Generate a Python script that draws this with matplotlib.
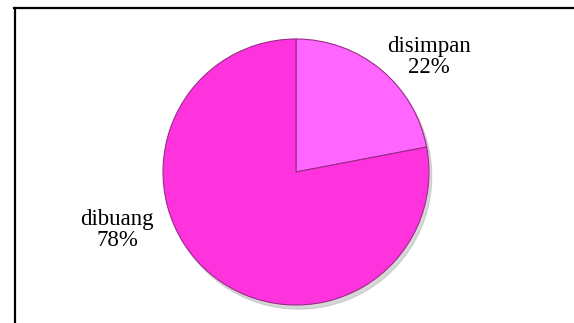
import matplotlib.pyplot as plt
from matplotlib.lines import Line2D

labels = ['disimpan', 'dibuang']
values = [22, 78]
colors = ['#ff66ff', '#ff33dd']

W, H = 574, 323
fig = plt.figure(figsize=(W / 100, H / 100), dpi=100)
ax = fig.add_axes([0, 0, 1, 1])

# pie in pixel units, y going up
cx, cy, r = 296, H - 172, 133
wedges, _ = ax.pie(values, colors=colors, startangle=90, counterclock=False,
                   center=(cx, cy), radius=r, frame=True,
                   wedgeprops=dict(edgecolor='#9a2a8a', linewidth=0.8),
                   shadow=dict(ox=2, oy=-3, color='#b0b0b0', alpha=0.5))
ax.set_xlim(0, W)
ax.set_ylim(0, H)
ax.set_aspect('equal')
ax.axis('off')

label_pos = [(429, H - 57), (117, H - 230)]
for lab, v, (x, y) in zip(labels, values, label_pos):
    ax.text(x, y, f'{lab}\n{v}%', ha='center', va='center',
            fontsize=16.5, family='Liberation Serif', linespacing=1.0)

# chart frame (top and left only visible)
fig.add_artist(Line2D([14 / W, 1], [1 - 8 / H, 1 - 8 / H], color='black', lw=1.6))
fig.add_artist(Line2D([14.5 / W, 14.5 / W], [0, 1 - 8 / H], color='black', lw=1.6))

fig.savefig('out.png', dpi=100)
